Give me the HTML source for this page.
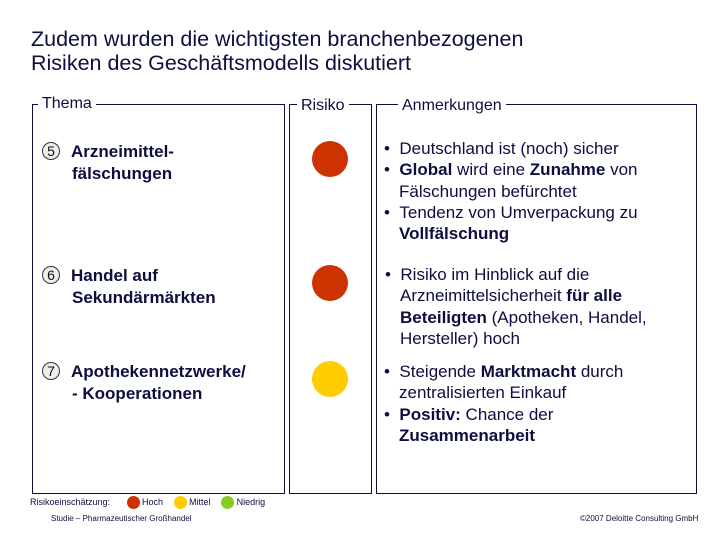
<!DOCTYPE html>
<html><head><meta charset="utf-8"><style>
body{margin:0;width:720px;height:540px;background:#fff;position:relative;overflow:hidden;font-family:"Liberation Sans",sans-serif;color:#0d0d40}
.a{position:absolute;white-space:nowrap}
.box{position:absolute;border:1.5px solid #0d0d40}
.lbl{position:absolute;background:#fff;padding:0 4px;font-size:16px;line-height:16px}
.t{font-size:17px;font-weight:bold;line-height:22px}
.n{font-size:17px;line-height:21.3px}
.num{display:inline-block;width:16px;height:16px;border:1px solid #333;border-radius:50%;font-size:14px;line-height:16px;text-align:center;background:#eee;font-weight:normal;color:#111;margin-right:11px;vertical-align:1px}
.dot{position:absolute;border-radius:50%}
.b{font-weight:bold}
.i{padding-left:15px}
</style></head><body>
<div class="a" style="left:31px;top:27px;font-size:21.5px;line-height:24px;color:#0d0d40">Zudem wurden die wichtigsten branchenbezogenen<br>Risiken des Geschäftsmodells diskutiert</div>

<div class="box" style="left:32px;top:104px;width:251px;height:388px"></div>
<div class="lbl" style="left:38px;top:96px">Thema</div>
<div class="box" style="left:289px;top:104px;width:81px;height:388px"></div>
<div class="lbl" style="left:297px;top:98px">Risiko</div>
<div class="box" style="left:376px;top:104px;width:319px;height:388px"></div>
<div class="lbl" style="left:398px;top:98px">Anmerkungen</div>

<div class="a t" style="left:42px;top:141px"><span class="num">5</span>Arzneimittel-<br><span style="padding-left:30px">fälschungen</span></div>
<div class="a t" style="left:42px;top:265px"><span class="num">6</span>Handel auf<br><span style="padding-left:30px">Sekundärmärkten</span></div>
<div class="a t" style="left:42px;top:361px"><span class="num">7</span>Apothekennetzwerke/<br><span style="padding-left:30px">- Kooperationen</span></div>

<div class="dot" style="left:312px;top:141px;width:36px;height:36px;background:#cc3300"></div>
<div class="dot" style="left:312px;top:265px;width:36px;height:36px;background:#cc3300"></div>
<div class="dot" style="left:312px;top:361px;width:36px;height:36px;background:#ffcc00"></div>

<div class="a n" style="left:384px;top:138px">• &nbsp;Deutschland ist (noch) sicher<br>• &nbsp;<span class="b">Global</span> wird eine <span class="b">Zunahme</span> von<br><span class="i">Fälschungen befürchtet</span><br>• &nbsp;Tendenz von Umverpackung zu<br><span class="i b">Vollfälschung</span></div>
<div class="a n" style="left:385px;top:264px">• &nbsp;Risiko im Hinblick auf die<br><span class="i">Arzneimittelsicherheit </span><span class="b">für alle</span><br><span class="i b">Beteiligten</span> (Apotheken, Handel,<br><span class="i">Hersteller) hoch</span></div>
<div class="a n" style="left:384px;top:361px">• &nbsp;Steigende <span class="b">Marktmacht</span> durch<br><span class="i">zentralisierten Einkauf</span><br>• &nbsp;<span class="b">Positiv:</span> Chance der<br><span class="i b">Zusammenarbeit</span></div>

<div class="a" style="left:30px;top:495px;font-size:9px;line-height:14px">Risikoeinschätzung:
<span style="display:inline-block;width:13px;height:13px;border-radius:50%;background:#cc3300;vertical-align:middle;margin-left:14px"></span> Hoch
<span style="display:inline-block;width:13px;height:13px;border-radius:50%;background:#ffcc00;vertical-align:middle;margin-left:8px"></span> Mittel
<span style="display:inline-block;width:13px;height:13px;border-radius:50%;background:#88cc22;vertical-align:middle;margin-left:8px"></span> Niedrig</div>
<div class="a" style="left:51px;top:514px;font-size:8px">Studie – Pharmazeutischer Großhandel</div>
<div class="a" style="left:580px;top:514px;font-size:8px">©2007 Deloitte Consulting GmbH</div>
</body></html>
